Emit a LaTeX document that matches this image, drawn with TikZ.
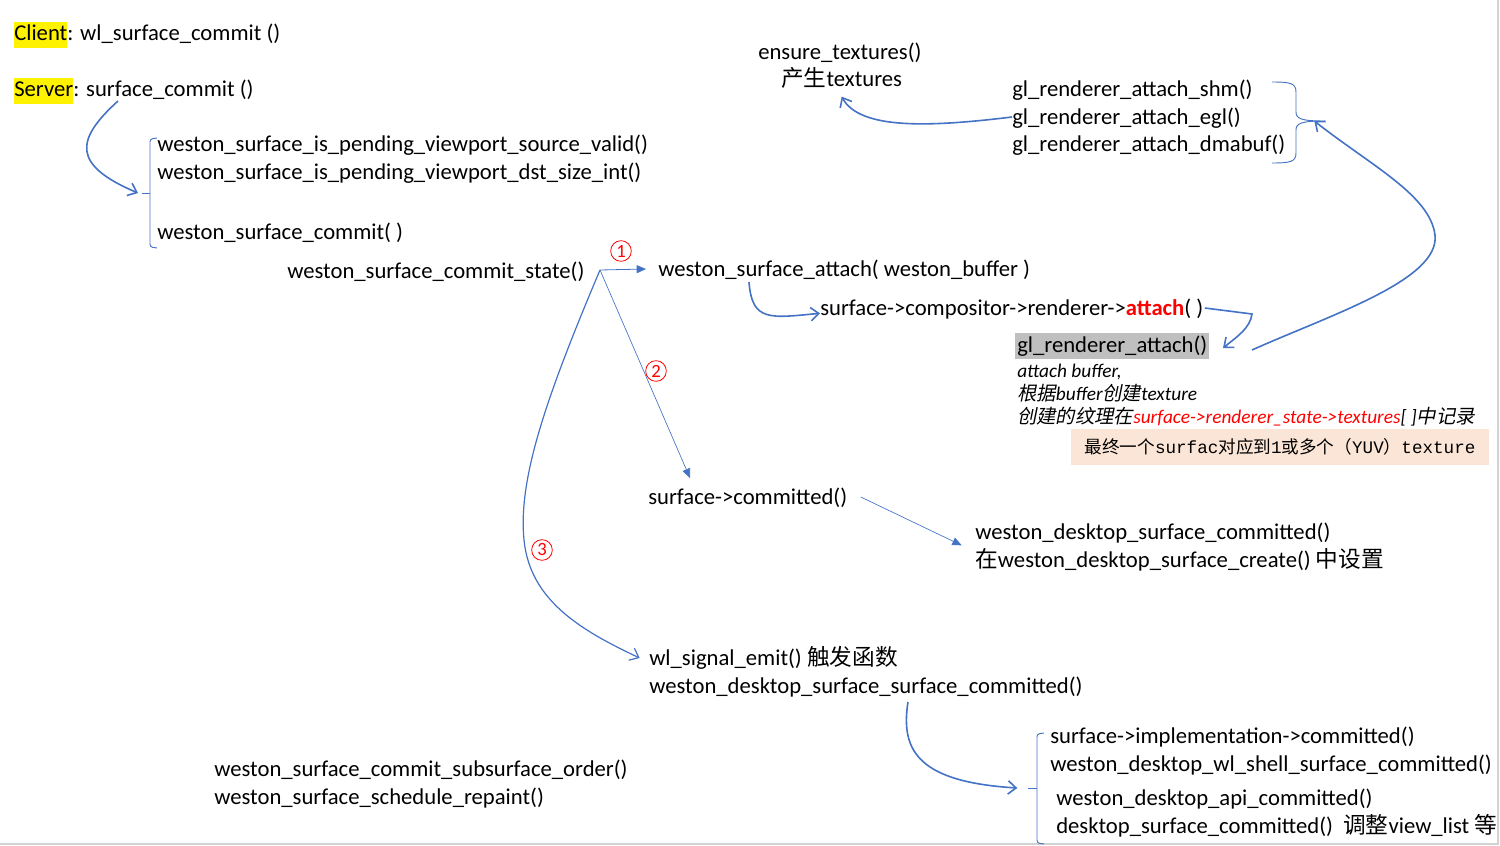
\documentclass[tikz,border=0pt]{standalone}
\usepackage{fontspec}
\setmainfont{Carlito}
\newfontfamily\cjk{Noto Sans CJK SC}
\newfontfamily\cjkit[FakeSlant=0.2]{Noto Sans CJK SC}
\newfontfamily\monofnt{Liberation Mono}
\usetikzlibrary{arrows.meta}
\setlength{\fboxsep}{0pt}
\definecolor{arrow_blue}{RGB}{68,114,196}
\definecolor{peach}{RGB}{251,229,214}
\definecolor{mark_gray}{RGB}{191,191,191}
\definecolor{frame_gray}{RGB}{210,210,210}

\tikzset{
  fn_txt/.style={anchor=west,inner sep=0pt,text height=14.5pt,text depth=3.5pt,font=\fontsize{17}{19.5}\selectfont},
  note_txt/.style={anchor=west,inner sep=0pt,text height=13pt,text depth=3pt,font=\fontsize{14.5}{16}\selectfont\itshape},
  open_arr/.style={arrow_blue,line width=1.2pt,-{Straight Barb[length=6pt,width=10pt]}},
  thin_arr/.style={arrow_blue,line width=0.6pt,-{Triangle[length=7pt,width=6pt]}},
  brace_ln/.style={arrow_blue,line width=0.7pt},
  step_no/.style={circle,draw=red,text=red,inner sep=0pt,minimum size=15.5pt,line width=0.6pt,font=\fontsize{14}{14}\selectfont},
}

\begin{document}
\begin{tikzpicture}[
  x=0.75pt, y=-0.75pt,
  frame line/.style={frame_gray,line width=1.5pt},
  ]
  \useasboundingbox (0,0) rectangle (1500,846);
  \draw[frame line] (0,844) -- (1498,844) -- (1498,0);

  % client / server
  \node[fn_txt] (client) at (14,33) {\colorbox{yellow}{\strut Client}: wl\_surface\_commit ()};
  \node[fn_txt] (server) at (14,89) {\colorbox{yellow}{\strut Server}: surface\_commit ()};

  \node[fn_txt] (pv_src) at (157,144) {weston\_surface\_is\_pending\_viewport\_source\_valid()};
  \node[fn_txt] (pv_dst) at (157,172) {weston\_surface\_is\_pending\_viewport\_dst\_size\_int()};
  \node[fn_txt] (sf_commit) at (157,232) {weston\_surface\_commit( )};
  \node[fn_txt] (commit_state) at (287,271) {weston\_surface\_commit\_state()};

  % attach branch
  \node[fn_txt] (sf_attach) at (658,269) {weston\_surface\_attach( weston\_buffer )};
  \node[fn_txt] (rend_attach) at (820,308) {surface->compositor->renderer->{\bfseries\color{red}attach}( )};
  \node[fn_txt,fill=mark_gray,inner sep=1.5pt,text height=13pt] (gl_attach) at (1015,346) {gl\_renderer\_attach()};
  \node[note_txt] (note_a) at (1017,371) {attach buffer,};
  \node[note_txt] (note_b) at (1017,394) {{\cjkit 根据}buffer{\cjkit 创建}texture};
  \node[note_txt] (note_c) at (1017,417) {{\cjkit 创建的纹理在}{\color{red}surface->renderer\_state->textures}[ ]{\cjkit 中记录}};
  \node[fill=peach,minimum width=313.5pt,minimum height=27.5pt,inner sep=0pt,font=\fontsize{13.2}{14}\selectfont] (final) at (1280,447)
    {{\cjk 最终一个}{\monofnt surfac}{\cjk 对应到}{\monofnt 1}{\cjk 或多个（}{\monofnt YUV}{\cjk ）}{\monofnt texture}};

  \node[fn_txt] (attach_shm) at (1012,89) {gl\_renderer\_attach\_shm()};
  \node[fn_txt] (attach_egl) at (1012,117) {gl\_renderer\_attach\_egl()};
  \node[fn_txt] (attach_dmabuf) at (1012,144) {gl\_renderer\_attach\_dmabuf()};
  \node[fn_txt] (ensure) at (758,52) {ensure\_textures()};
  \node[fn_txt] (produce) at (781,79) {{\cjk 产生}textures};

  % committed branch
  \node[fn_txt] (committed) at (648,497) {surface->committed()};
  \node[fn_txt] (desk_committed) at (975,532) {weston\_desktop\_surface\_committed()};
  \node[fn_txt] (desk_create) at (975,560) {{\cjk 在}weston\_desktop\_surface\_create() {\cjk 中设置}};
  \node[fn_txt] (emit) at (649,658) {wl\_signal\_emit() {\cjk 触发函数}};
  \node[fn_txt] (surf_committed) at (649,686) {weston\_desktop\_surface\_surface\_committed()};
  \node[fn_txt] (impl) at (1050,736) {surface->implementation->committed()};
  \node[fn_txt] (wl_shell) at (1050,764) {weston\_desktop\_wl\_shell\_surface\_committed()};
  \node[fn_txt] (api) at (1056,798) {weston\_desktop\_api\_committed()};
  \node[fn_txt] (desk_sc) at (1056,826) {desktop\_surface\_committed()\ \ {\cjk 调整}view\_list {\cjk 等}};
  \node[fn_txt] (subsurf) at (214,769) {weston\_surface\_commit\_subsurface\_order()};
  \node[fn_txt] (repaint) at (214,797) {weston\_surface\_schedule\_repaint()};

  % braces
  \draw[brace_ln,rounded corners=2pt] (157,138) -- (150,139) -- (150,247) -- (157,248);
  \draw[brace_ln] (150,193) -- (142,193) coordinate (brace_a);
  \draw[brace_ln] (1272,82) .. controls (1290,82) and (1296,83) .. (1296,92) -- (1296,112)
     .. controls (1296,119) and (1302,121) .. (1325,121) coordinate (brace_b)
     .. controls (1302,121) and (1296,123) .. (1296,130) -- (1296,153)
     .. controls (1296,162) and (1290,163) .. (1272,163);
  \draw[brace_ln,rounded corners=2pt] (1044,733) -- (1037,734) -- (1037,843) -- (1044,844);
  \draw[brace_ln] (1037,788) -- (1028,788) coordinate (brace_c);

  % connectors
  \coordinate (srv_out) at (118,101);
  \coordinate (hub) at (600,270);
  \coordinate (committed_in) at (690,478);
  \coordinate (attach_out) at (749,282);
  \coordinate (gl_out) at (1252,350);
  \coordinate (sc_out) at (908,702);

  \draw[open_arr] (srv_out) .. controls (75,140) and (72,165) .. ([xshift=-3pt]brace_a);
  \draw[thin_arr] (hub) -- ([xshift=-9pt]sf_attach.west);
  \draw[thin_arr,line width=0.5pt] (hub) -- (committed_in);
  \draw[open_arr,line width=0.9pt] (hub) .. controls (545,400) and (518,480) .. (524,540)
     .. controls (530,600) and (580,630) .. ([xshift=-7pt]emit.west);
  \draw[open_arr] (attach_out) .. controls (752,322) and (770,318) .. ([yshift=-4pt]rend_attach.west);
  \draw[open_arr] ([xshift=1pt]rend_attach.east) -- (1252,314) .. controls (1250,328) and (1238,336) .. (1223,348);
  \draw[open_arr] (gl_out) .. controls (1330,315) and (1440,280) .. (1435,235)
     .. controls (1430,195) and (1370,165) .. ([xshift=-8pt]brace_b);
  \draw[open_arr] (attach_egl.west) .. controls (930,127) and (860,130) .. ([yshift=-4pt]produce.south);
  \draw[thin_arr,line width=0.5pt] ([xshift=10pt]committed.east) -- ([xshift=-10pt,yshift=-10pt]desk_committed.west);
  \draw[open_arr] (sc_out) .. controls (900,752) and (920,782) .. ([xshift=-8pt]brace_c);

  \foreach \num/\pos in {1/{(621,251)}, 2/{(656,371)}, 3/{(542,550)}}{
    \node[step_no] (step\num) at \pos {\num};
  }
\end{tikzpicture}
\end{document}
